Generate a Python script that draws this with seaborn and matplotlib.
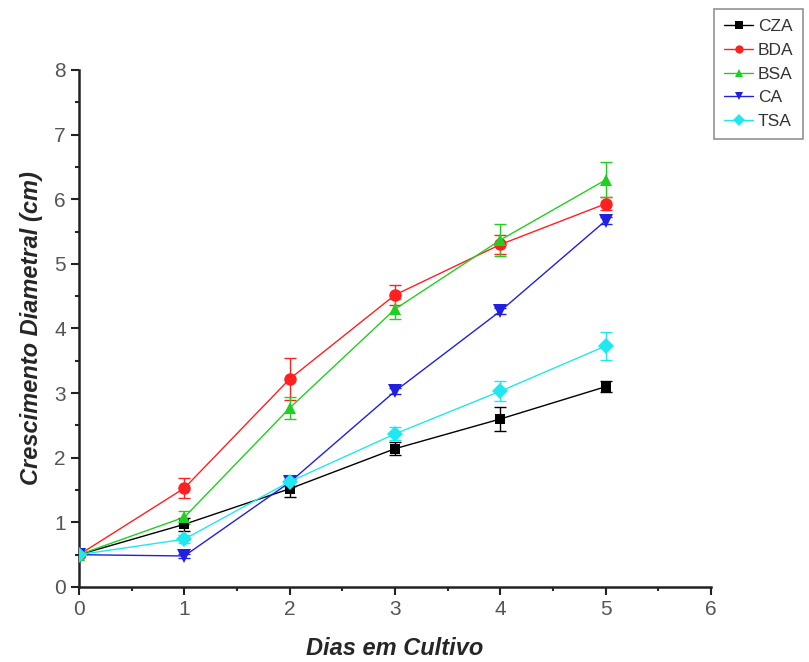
import matplotlib
matplotlib.use("Agg")
import matplotlib.pyplot as plt
from matplotlib.ticker import MultipleLocator
import pandas as pd
import seaborn as sns

dias = [0, 1, 2, 3, 4, 5]

cza = [0.50, 0.97, 1.52, 2.14, 2.60, 3.10]
cza_err = [0.03, 0.10, 0.12, 0.10, 0.18, 0.08]

bda = [0.50, 1.53, 3.22, 4.52, 5.30, 5.93]
bda_err = [0.03, 0.15, 0.33, 0.15, 0.15, 0.10]

bsa = [0.50, 1.08, 2.77, 4.30, 5.37, 6.30]
bsa_err = [0.03, 0.10, 0.17, 0.15, 0.25, 0.27]

ca = [0.50, 0.48, 1.62, 3.03, 4.27, 5.67]
ca_err = [0.02, 0.03, 0.05, 0.05, 0.05, 0.05]

tsa = [0.50, 0.74, 1.63, 2.37, 3.03, 3.73]
tsa_err = [0.02, 0.06, 0.08, 0.10, 0.15, 0.22]

meios = ["CZA", "BDA", "BSA", "CA", "TSA"]
valores = [cza, bda, bsa, ca, tsa]
erros = [cza_err, bda_err, bsa_err, ca_err, tsa_err]

cores = ["#000000", "#ff2020", "#20d020", "#2020e0", "#20e8f0"]
marcadores = ["s", "o", "^", "v", "D"]
tam = [7, 9, 9, 10, 8]

rows = []
for m, vals in zip(meios, valores):
    for d, v in zip(dias, vals):
        rows.append({"dia": d, "valor": v, "meio": m})
df = pd.DataFrame(rows)

sns.set_style("ticks")
plt.rcParams["font.family"] = ["Liberation Sans", "DejaVu Sans"]

fig = plt.figure(figsize=(8.09, 6.62), dpi=100)
ax = fig.add_axes([0.0977, 0.1133, 0.7813, 0.7810])

# barras de erro
for m, vals, errs, c in zip(meios, valores, erros, cores):
    ax.errorbar(dias, vals, yerr=errs, fmt="none", ecolor=c,
                elinewidth=1, capsize=4, capthick=1, zorder=2)

sns.lineplot(data=df, x="dia", y="valor", hue="meio", style="meio",
             palette=dict(zip(meios, cores)),
             markers=dict(zip(meios, marcadores)),
             dashes=False, linewidth=1, markeredgewidth=0,
             ax=ax, legend=False, zorder=3)

# tamanhos dos marcadores
for line, s in zip(ax.get_lines()[-len(meios):], tam):
    line.set_markersize(s)

ax.set_xlim(0, 6)
ax.set_ylim(0, 8)
ax.xaxis.set_major_locator(MultipleLocator(1))
ax.xaxis.set_minor_locator(MultipleLocator(0.5))
ax.yaxis.set_major_locator(MultipleLocator(1))
ax.yaxis.set_minor_locator(MultipleLocator(0.5))
ax.tick_params(which="major", length=6, width=1.5, direction="out",
               labelsize=15, colors="#222222", labelcolor="#555555")
ax.tick_params(which="minor", length=3, width=1.5, direction="out")
for s in ["top", "right"]:
    ax.spines[s].set_visible(False)
for s in ["left", "bottom"]:
    ax.spines[s].set_linewidth(1.8)
    ax.spines[s].set_color("#222222")

ax.set_xlabel("Dias em Cultivo", fontsize=17, fontweight="bold",
              fontstyle="italic", labelpad=13)
ax.set_ylabel("Crescimento Diametral (cm)", fontsize=17, fontweight="bold",
              fontstyle="italic", labelpad=8)

# legenda
handles = [plt.Line2D([0], [0], color=c, marker=mk, markersize=6,
                      markeredgewidth=0, linewidth=1)
           for c, mk in zip(cores, marcadores)]
leg = fig.legend(handles, meios, loc="upper left",
                 bbox_to_anchor=(0.883, 0.986), fontsize=12.5,
                 frameon=True, fancybox=False, handlelength=1.7,
                 handletextpad=0.25, borderpad=0.55, labelspacing=0.5,
                 borderaxespad=0)
leg.get_frame().set_edgecolor("#777777")
leg.get_frame().set_linewidth(1.2)
for t in leg.get_texts():
    t.set_color("#333333")

fig.savefig("out.png", dpi=100)
